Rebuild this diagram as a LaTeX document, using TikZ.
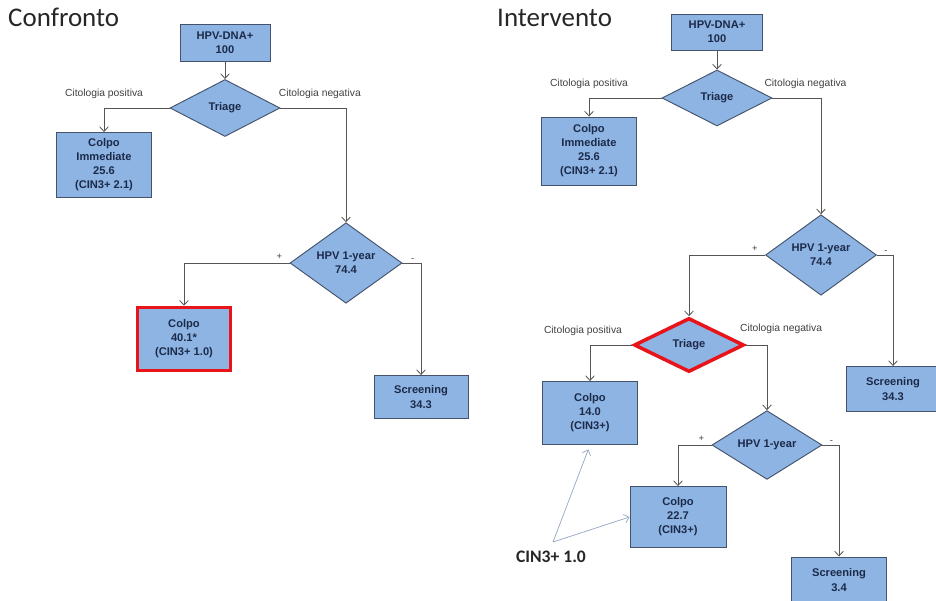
\documentclass[tikz,border=0pt]{standalone}
\usepackage{fontspec}
\setmainfont{Liberation Sans}
\newfontfamily\titlefont{Carlito}
\usetikzlibrary{shapes.geometric,arrows.meta,positioning}

\definecolor{boxblue}{HTML}{8DB4E2}
\definecolor{boxline}{HTML}{44536B}
\definecolor{boxtext}{HTML}{1C2A4A}
\definecolor{flowgrey}{HTML}{555555}
\definecolor{hlred}{HTML}{E8141A}
\definecolor{notegrey}{HTML}{93A6C2}

\tikzset{
  boxsz/.style 2 args={minimum width=#1*0.03cm, minimum height=#2*0.03cm},
  procbox/.style={draw=boxline, line width=0.8pt, fill=boxblue, text=boxtext, align=center,
    inner sep=1pt, font=\fontsize{9.5}{12}\selectfont\bfseries},
  decide/.style={diamond, draw=boxline, line width=0.8pt, fill=boxblue, text=boxtext, align=center,
    inner sep=0pt, font=\fontsize{9.5}{12}\selectfont\bfseries},
  hilite/.style={draw=hlred, line width=3pt},
  flow/.style={draw=flowgrey, line width=0.7pt, ->},
  note/.style={draw=notegrey, line width=0.6pt, ->},
  cito/.style={font=\fontsize{8.8}{10}\selectfont, text=black!75},
  sgn/.style={font=\fontsize{8}{9}\selectfont, text=black!75, inner sep=1pt},
  titletxt/.style={font=\titlefont\fontsize{23}{26}\selectfont, text=black!85, inner sep=0pt}
}

\begin{document}
\begin{tikzpicture}[x=0.03cm, y=-0.03cm, >={Straight Barb[length=1.4mm,width=2.6mm]}]
    \useasboundingbox (0,0) rectangle (936,601);

    % Confronto
    \node[titletxt, anchor=base west] (ttlL) at (8,27) {Confronto};
    \node[procbox, boxsz={90}{37}] (dnaL) at (225,43) {HPV-DNA+\\100};
    \node[decide, boxsz={110}{57}] (triL) at (225,108) {Triage};
    \node[procbox, boxsz={95}{65}] (ciL) at (104,165) {Colpo\\Immediate\\25.6\\(CIN3+ 2.1)};
    \node[decide, boxsz={112}{62}] (hpvL) at (346,263) {HPV 1-year\\74.4};
    \node[procbox, hilite, boxsz={93}{63}] (colL) at (184,339) {Colpo\\40.1*\\(CIN3+ 1.0)};
    \node[procbox, boxsz={94}{43}] (scrL) at (421,397) {Screening\\34.3};

    \draw[flow] (dnaL) -- (triL);
    \draw[flow] (triL.west) -| node[cito, pos=0.5, above=4pt] (cpL) {Citologia positiva} (ciL.north);
    \draw[flow] (triL.east) -| node[cito, pos=0.3, above=4pt] (cnL) {Citologia negativa} (hpvL.north);
    \draw[flow] (hpvL.west) node[sgn, above left=2pt and 5pt] (plL) {+} -| (colL.north);
    \draw[flow] (hpvL.east) node[sgn, above right=0pt and 6pt] (miL) {-} -| (scrL.north);

    % Intervento
    \node[titletxt, anchor=base west] (ttlR) at (497,27) {Intervento};
    \node[procbox, boxsz={91}{36}] (dnaR) at (717,32) {HPV-DNA+\\100};
    \node[decide, boxsz={110}{56}] (triR) at (717,98) {Triage};
    \node[procbox, boxsz={95}{68}] (ciR) at (589,151) {Colpo\\Immediate\\25.6\\(CIN3+ 2.1)};
    \node[decide, boxsz={111}{60}] (hpvR) at (821,255) {HPV 1-year\\74.4};
    \node[procbox, boxsz={94}{45}] (scrR) at (893,389) {Screening\\34.3};
    \node[decide, hilite, boxsz={110}{54}] (tri2R) at (689,345) {Triage};
    \node[procbox, boxsz={95}{63}] (c14) at (590,413) {Colpo\\14.0\\(CIN3+)};
    \node[decide, boxsz={110}{64}] (hpv2R) at (767,445) {HPV 1-year};
    \node[procbox, boxsz={96}{61}] (c22) at (678,517) {Colpo\\22.7\\(CIN3+)};
    \node[procbox, boxsz={95}{46}] (scr3) at (839,580) {Screening\\3.4};

    \draw[flow] (dnaR) -- (triR);
    \draw[flow] (triR.west) -| node[cito, pos=0.5, above=4pt] (cpR) {Citologia positiva} (ciR.north);
    \draw[flow] (triR.east) -| node[cito, pos=0.34, above=4pt] (cnR) {Citologia negativa} (hpvR.north);
    \draw[flow] (hpvR.west) node[sgn, above left=2pt and 5pt] (plR) {+} -| (tri2R.north);
    \draw[flow] (hpvR.east) node[sgn, above right=0pt and 5pt] (miR) {-} -| (scrR.north);
    \draw[flow] (tri2R.west) -| node[cito, pos=0.5, above=4pt, xshift=-6pt] (cp2R) {Citologia positiva} (c14.north);
    \draw[flow] (tri2R.east) -| node[cito, pos=0.5, above=6pt, xshift=12pt] (cn2R) {Citologia negativa} (hpv2R.north);
    \draw[flow] (hpv2R.west) node[sgn, above left=2pt and 5pt] (pl2R) {+} -| (c22.north);
    \draw[flow] (hpv2R.east) node[sgn, above right=0pt and 5pt] (mi2R) {-} -| (scr3.north);

    % CIN3+ note
    \node[font=\titlefont\fontsize{15}{17}\selectfont\bfseries, text=black!85] (cin) at (551,557) {CIN3+ 1.0};
    \coordinate (cinsrc) at (553,542);
    \draw[note, shorten >=4pt] (cinsrc) -- (c14.south);
    \draw[note] (cinsrc) -- (c22.west);
\end{tikzpicture}
\end{document}
